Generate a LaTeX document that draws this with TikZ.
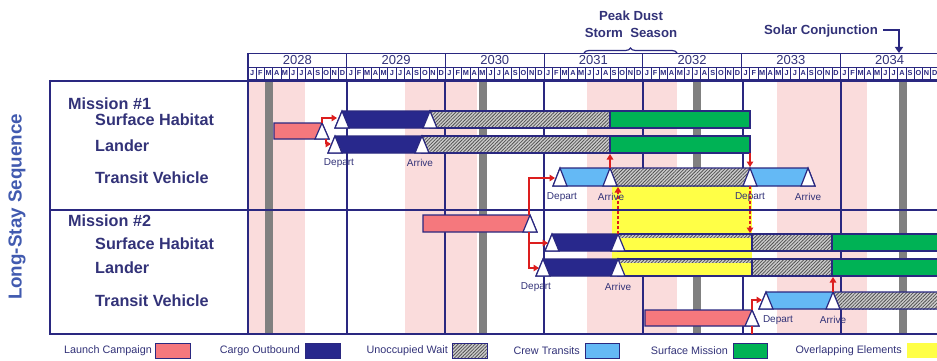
\documentclass[tikz,border=0pt]{standalone}
\usepackage{fontspec}
\setmainfont{Liberation Sans}
\usetikzlibrary{patterns.meta,arrows.meta,decorations.pathreplacing}
\definecolor{navy}{RGB}{42,40,128}
\definecolor{txtnavy}{RGB}{50,50,120}
\definecolor{titleblue}{RGB}{65,90,175}
\definecolor{launch}{RGB}{245,120,125}
\definecolor{cargo}{RGB}{40,40,140}
\definecolor{crew}{RGB}{100,185,245}
\definecolor{surf}{RGB}{0,178,85}
\definecolor{yel}{RGB}{255,255,70}
\definecolor{dust}{RGB}{250,220,220}
\definecolor{conj}{RGB}{128,128,128}
\definecolor{redc}{RGB}{220,30,30}
\newcommand{\tri}[3]{\draw[trishape] ({#1-7},#3) -- (#1,#2) -- ({#1+7},#3) -- cycle;}
\tikzset{
  trishape/.style={fill=white, draw=navy, line width=1.2pt, line join=miter},
  seg/.style={draw=navy, line width=1.2pt},
  hatch/.style={preaction={fill=gray!40}, pattern={Lines[angle=45,distance=2.4pt,line width=0.8pt]}, pattern color=gray!65!black},
  redarr/.style={draw=redc, line width=1.6pt, -{Triangle[length=5.5pt,width=6.5pt]}},
  redline/.style={draw=redc, line width=1.6pt},
  framel/.style={draw=navy, line width=2.6pt},
  yearline/.style={draw=navy, line width=1.4pt},
  hdr/.style={draw=navy, line width=0.8pt},
  yeartxt/.style={text=txtnavy, font=\fontsize{13}{14}\selectfont, inner sep=0pt},
  mtxt/.style={text=navy, font=\bfseries\fontsize{7.3}{8}\selectfont, inner sep=0pt},
  lbl/.style={text=txtnavy, font=\bfseries\fontsize{16.2}{18}\selectfont, anchor=west, inner sep=0pt},
  evt/.style={text=txtnavy, font=\fontsize{10}{11}\selectfont, inner sep=0pt},
  legtxt/.style={text=txtnavy, font=\fontsize{10.8}{12}\selectfont, anchor=east, inner sep=0pt},
  sw/.style={draw=navy, line width=1pt},
  annot/.style={text=txtnavy, font=\bfseries\fontsize{13.2}{17}\selectfont, inner sep=0pt, align=center}
}
\begin{document}
\begin{tikzpicture}[x=1pt,y=-1pt]
\useasboundingbox (0,0) rectangle (937,361);
\begin{scope}
\clip (0,0) rectangle (937,361);
% dust storm bands
\foreach \a/\b in {248/305,405/477,587/677,777/867} \fill[dust] (\a,82) rectangle (\b,334);
% solar conjunction bars
\foreach \a in {265,479,693,899} \fill[conj] (\a,82) rectangle (\a+8,334);
% year lines
\foreach \x in {347,445,544,643,743,841} \draw[yearline] (\x,82) -- (\x,334);
% header
\foreach \n in {0,...,6} {
  \pgfmathsetmacro{\xa}{248+98.7*\n}
  \pgfmathtruncatemacro{\yr}{2028+\n}
  \draw[hdr] (\xa,53) rectangle (\xa+98.7,67);
  \node[yeartxt] (yr\n) at (\xa+49.35,60.5) {\yr};
  \foreach \m [count=\k from 0] in {J,F,M,A,M,J,J,A,S,O,N,D} {
    \draw[hdr] (\xa+8.225*\k,67) rectangle ++(8.225,12.5);
    \node[mtxt] (mo\n-\k) at (\xa+8.225*\k+4.11,73.3) {\m};
  }
}
% overlapping elements block
\fill[yel] (612,186) rectangle (752,276);
% frame
\draw[framel] (50,81) -- (945,81);
\draw[framel] (50,80) -- (50,334) -- (945,334);
\draw[framel] (50,210) -- (945,210);
\draw[draw=navy, line width=1.8pt] (248,53) -- (248,334);

% ---------- Mission 1 ----------
\draw[seg,fill=launch] (274,123) -- (322,123) -- (329,139) -- (274,139) -- cycle;
\draw[seg,fill=cargo] (335,128) -- (342,111) -- (430,111) -- (430,128) -- cycle;
\draw[seg,hatch] (430,111) rectangle (610,128);
\draw[seg,fill=surf] (610,111) rectangle (750,128);
\draw[seg,fill=cargo] (328,153) -- (335,136) -- (422,136) -- (422,153) -- cycle;
\draw[seg,hatch] (422,136) rectangle (610,153);
\draw[seg,fill=surf] (610,136) rectangle (750,153);
\tri{322}{123}{139}
\tri{342}{111}{128}
\tri{430}{111}{128}
\tri{335}{136}{153}
\tri{422}{136}{153}
% transit vehicle 1
\fill[crew] (553,186) -- (560,168) -- (808,168) -- (815,186) -- cycle;
\fill[hatch] (610,168) rectangle (750,186);
\draw[seg] (553,186) -- (560,168) -- (808,168) -- (815,186) -- cycle;
\draw[seg] (610,168) -- (610,186) (750,168) -- (750,186);
\tri{560}{168}{186}
\tri{610}{168}{186}
\tri{750}{168}{186}
\tri{808}{168}{186}

% ---------- Mission 2 ----------
\draw[seg,fill=launch] (423,215) -- (530,215) -- (537,232) -- (423,232) -- cycle;
\tri{530}{215}{232}
\foreach \ya/\yb/\xs in {234/251/552, 259/276/543} {
  \draw[seg,fill=cargo] (\xs-7,\yb) -- (\xs,\ya) -- (618,\ya) -- (618,\yb) -- cycle;
  \fill[hatch] (618,\ya) rectangle (752,\yb);
  \fill[yel] (618,\ya+4) rectangle (752,\yb);
  \draw[seg] (618,\ya) rectangle (752,\yb);
  \draw[seg,hatch] (752,\ya) rectangle (832,\yb);
  \draw[seg,fill=surf] (832,\ya) rectangle (945,\yb);
  \tri{\xs}{\ya}{\yb}
  \tri{618}{\ya}{\yb}
}
\draw[seg,fill=launch] (645,310) -- (752,310) -- (759,326) -- (645,326) -- cycle;
\tri{752}{310}{326}
\fill[crew] (759,309) -- (766,292) -- (945,292) -- (945,309) -- cycle;
\fill[hatch] (833,292) rectangle (945,309);
\draw[seg] (945,309) -- (759,309) -- (766,292) -- (945,292);
\draw[seg] (833,292) -- (833,309);
\tri{766}{292}{309}
\tri{833}{292}{309}

% ---------- connection points ----------
\coordinate (la1top) at (322,123);
\coordinate (la1bot) at (326,139);
\coordinate (sh1dep) at (337,118);
\coordinate (ld1dep) at (331,144);
\coordinate (tv1arr) at (610,168);
\coordinate (gr1arr) at (610,154);
\coordinate (gr1end) at (750,153);
\coordinate (tv1dep) at (750,167);
\coordinate (sh2arr) at (618,234);
\coordinate (tv1arrb) at (618,187);
\coordinate (tv1depb) at (750,186);
\coordinate (sh2top) at (750,233);
\coordinate (la2top) at (529,215);
\coordinate (la2bot) at (529,232);
\coordinate (la2mid) at (529,243);
\coordinate (tv1start) at (555,178);
\coordinate (sh2dep) at (548,243);
\coordinate (ld2dep) at (539,268);
\coordinate (la3top) at (752,310);
\coordinate (la3bot) at (752,326);
\coordinate (la3end) at (752,334);
\coordinate (tv2dep) at (762,300);
\coordinate (tv2arr) at (833,292);
\coordinate (gr2arr) at (833,277);

\draw[redarr] (la1top) |- (sh1dep);
\draw[redarr] (la1bot) |- (ld1dep);
\draw[redarr] (tv1arr) -- (gr1arr);
\draw[redarr] (gr1end) -- (tv1dep);
\draw[redarr, dash pattern=on 3pt off 2pt] (sh2arr) -- (tv1arrb);
\draw[redarr, dash pattern=on 3pt off 2pt] (tv1depb) -- (sh2top);
\draw[redarr] (la2top) |- (tv1start);
\draw[redarr] (la2bot) |- (sh2dep);
\draw[redarr] (la2mid) |- (ld2dep);
\draw[redarr] (la3top) |- (tv2dep);
\draw[redline] (la3bot) -- (la3end);
\draw[redarr] (tv2arr) -- (gr2arr);

% event labels
\node[evt] (e1) at (339,163) {Depart};
\node[evt] (e2) at (420,163) {Arrive};
\node[evt] (e3) at (562,197) {Depart};
\node[evt] (e4) at (611,197) {Arrive};
\node[evt] (e5) at (750,197) {Depart};
\node[evt] (e6) at (808,197) {Arrive};
\node[evt] (e7) at (536,287) {Depart};
\node[evt] (e8) at (618,287) {Arrive};
\node[evt] (e9) at (778,320) {Depart};
\node[evt] (e10) at (833,320) {Arrive};

% row labels
\node[rotate=90, text=titleblue, font=\bfseries\fontsize{18.8}{20}\selectfont, inner sep=0pt] (ttl) at (17,207) {Long-Stay Sequence};
\node[lbl] (m1) at (68,104) {Mission \#1};
\node[lbl] (m1a) at (95,120) {Surface Habitat};
\node[lbl] (m1b) at (95,146) {Lander};
\node[lbl] (m1c) at (95,178) {Transit Vehicle};
\node[lbl] (m2) at (68,221) {Mission \#2};
\node[lbl] (m2a) at (95,244) {Surface Habitat};
\node[lbl] (m2b) at (95,268) {Lander};
\node[lbl] (m2c) at (95,301) {Transit Vehicle};

% annotations
\node[annot] (pds) at (631,24) {Peak Dust\\Storm~~Season};
\draw[navy, line width=1.2pt, decorate, decoration={brace, amplitude=5pt}] (584,53) -- (677,53);
\node[annot] (sc) at (821,31) {Solar Conjunction};
\coordinate (scarr) at (899,53);
\draw[navy, line width=2.6pt, -{Triangle[length=6pt,width=8pt]}] (883,30) -| (scarr);

% legend
\node[legtxt] (lg1) at (152,351) {Launch Campaign};
\draw[sw, fill=launch] (155,343) rectangle (190,358);
\node[legtxt] (lg2) at (300,351) {Cargo Outbound};
\draw[sw, fill=cargo] (305,343) rectangle (340,358);
\node[legtxt] (lg3) at (448,351) {Unoccupied Wait};
\draw[sw, hatch] (452,343) rectangle (487,358);
\node[legtxt] (lg4) at (580,351) {Crew Transits};
\draw[sw, fill=crew] (585,343) rectangle (619,358);
\node[legtxt] (lg5) at (728,351) {Surface Mission};
\draw[sw, fill=surf] (733,343) rectangle (767,358);
\node[legtxt] (lg6) at (902,351) {Overlapping Elements};
\draw[sw, draw=none, fill=yel] (907,343) rectangle (942,358);
\end{scope}
\end{tikzpicture}
\end{document}
